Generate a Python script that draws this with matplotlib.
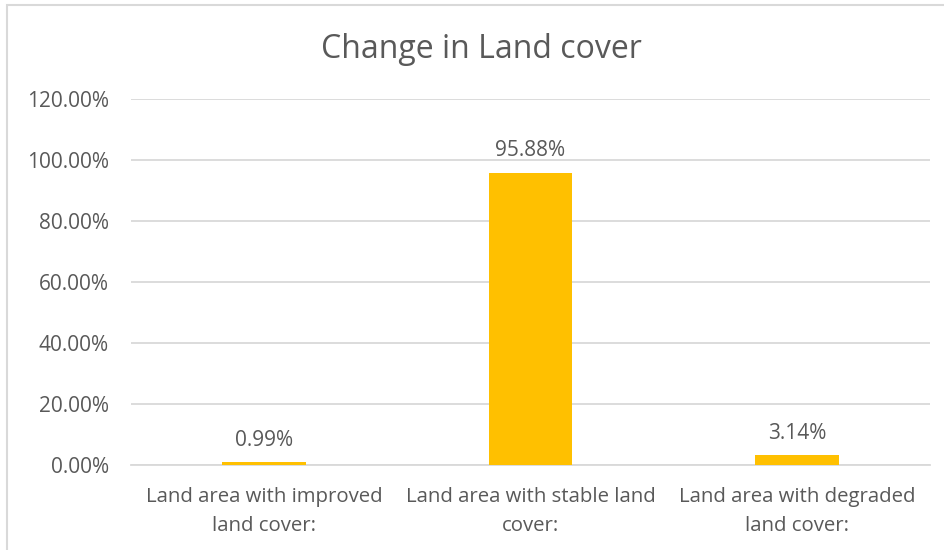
import matplotlib
matplotlib.use("Agg")
import matplotlib.pyplot as plt
from matplotlib.patches import Rectangle
from matplotlib.ticker import FuncFormatter, MultipleLocator

categories = [
    "Land area with improved\nland cover:",
    "Land area with stable land\ncover:",
    "Land area with degraded\nland cover:",
]
values = [0.99, 95.88, 3.14]
value_labels = ["0.99%", "95.88%", "3.14%"]
title = "Change in Land cover"

TEXT = "#595959"
GRID = "#D9D9D9"
BAR = "#FFC000"

plt.rcParams["font.family"] = ["Open Sans", "DejaVu Sans"]

fig = plt.figure(figsize=(9.44, 5.5), dpi=100)
fig.patch.set_facecolor("white")

# chart frame
fig.patches.append(Rectangle((7 / 944, -0.1), 1.2, 1.1 - 5 / 550,
                             transform=fig.transFigure, fill=False,
                             edgecolor=GRID, linewidth=1.5, zorder=0))

ax = fig.add_axes([131 / 944, 85 / 550, (930 - 131) / 944, (465 - 99) / 550])
x = range(len(categories))
ax.bar(x, values, width=0.315, color=BAR, zorder=3)

ax.set_xlim(-0.5, len(categories) - 0.5)
ax.set_ylim(0, 120)
ax.yaxis.set_major_locator(MultipleLocator(20))
ax.yaxis.set_major_formatter(FuncFormatter(lambda v, _: f"{v:.2f}%"))
ax.grid(axis="y", color=GRID, linewidth=1.3, zorder=0)
ax.set_axisbelow(True)

for s in ["top", "right", "left"]:
    ax.spines[s].set_visible(False)
ax.spines["bottom"].set_color(GRID)
ax.spines["bottom"].set_linewidth(1.3)

ax.set_xticks(list(x))
ax.set_xticklabels(categories, linespacing=1.6)
ax.tick_params(axis="y", length=0, labelsize=15, colors=TEXT, pad=16)
ax.tick_params(axis="x", length=0, labelsize=14.7, colors=TEXT, pad=16)

for xi, v, lab in zip(x, values, value_labels):
    ax.annotate(lab, (xi, v), xytext=(0, 8), textcoords="offset points",
                ha="center", va="bottom", fontsize=15, color=TEXT)

fig.text(481 / 944, 1 - 49 / 550, title, ha="center", va="center",
         fontsize=23, color=TEXT)

fig.savefig("out.png", dpi=100)
